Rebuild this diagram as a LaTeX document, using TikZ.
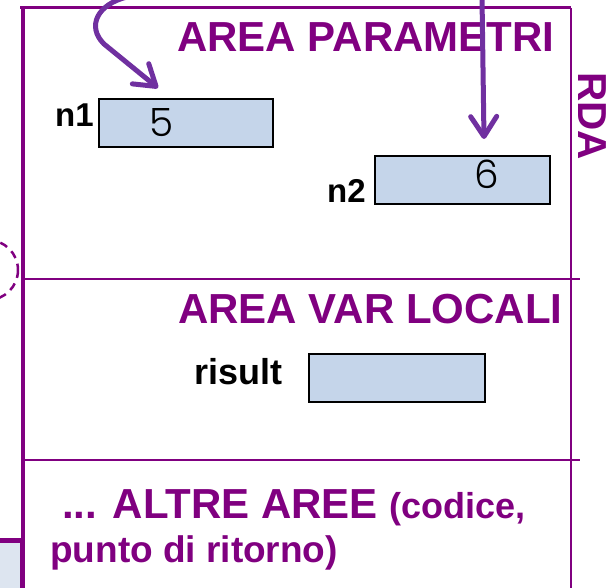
\documentclass[tikz,border=0pt]{standalone}
\usepackage{fontspec}
\setmainfont{Liberation Sans}
\newfontfamily\digitfont{Poppins}[UprightFont=* Light]
\usetikzlibrary{arrows.meta}
\definecolor{rdapurple}{HTML}{800080}
\definecolor{arrowpurple}{HTML}{7030A0}
\definecolor{cellfill}{HTML}{C5D5EA}
\definecolor{palefill}{HTML}{DDE5F0}
\tikzset{
  areatitle/.style={text=rdapurple, font=\fontsize{42}{46}\selectfont\bfseries, inner sep=0pt},
  varlabel/.style={text=black, font=\fontsize{33}{36}\selectfont\bfseries, inner sep=0pt},
  cell/.style={draw=black, line width=1.6pt, fill=cellfill, minimum width=#1, minimum height=48pt, inner sep=0pt},
  digit/.style={text=black, font=\fontsize{39}{40}\digitfont, inner sep=0pt},
  frame/.style={draw=rdapurple},
  callarrow/.style={draw=arrowpurple, line width=5pt, line cap=round, line join=round,
    -{Straight Barb[length=20pt, width=26pt, line cap=round, line join=round]}},
}
\begin{document}
\begin{tikzpicture}[x=1pt, y=-1pt]
\useasboundingbox (0,0) rectangle (610,588);
\clip (0,0) rectangle (610,588);
% frame
\draw[frame, line width=3pt] (20,8) -- (571,8);
\draw[frame, line width=2.5pt] (571,8) -- (571,592);
\draw[frame, line width=3.5pt] (23,8) -- (23,540);
\draw[frame, line width=2pt] (25,279) -- (580,279);
\draw[frame, line width=2pt] (25,460) -- (580,460);
\draw[frame, line width=5pt, fill=palefill] (-5,540) rectangle (22.5,600);
\draw[frame, line width=2.5pt, dash pattern=on 8pt off 6pt] (-12,270) circle (30);
% titles
\node[areatitle, anchor=base west] (tpar) at (177,52) {AREA PARAMETRI};
\node[areatitle, anchor=base west] (tloc) at (178,323) {AREA VAR LOCALI};
\node[areatitle, font=\fontsize{40.5}{44}\selectfont\bfseries, anchor=base west, rotate=-90] (trda) at (578,72) {RDA};
\node[text=rdapurple, inner sep=0pt, anchor=base west, font=\bfseries] (talt) at (62,518)
  {{\fontsize{42}{45}\selectfont ... ALTRE AREE }{\fontsize{36}{40}\selectfont(codice,}};
\node[text=rdapurple, inner sep=0pt, anchor=base west, font=\fontsize{37}{40}\selectfont\bfseries] (tpun) at (50,562) {punto di ritorno)};
% variables
\node[varlabel, anchor=base west] (ln1) at (55,127) {n1};
\node[cell=174pt, anchor=north west] (c1) at (98,98) {};
\node[digit, anchor=base] (d1) at (162,137) {5};
\node[varlabel, anchor=base west] (ln2) at (327,202) {n2};
\node[cell=175pt, anchor=north west] (c2) at (374,155) {};
\node[digit, anchor=base] (d2) at (487,189) {6};
\node[varlabel, font=\fontsize{36}{40}\selectfont\bfseries, anchor=base west] (lr) at (194,384) {risult};
\node[cell=176pt, anchor=north west] (c3) at (308,353) {};
% arrows
\coordinate (s1) at (127,-3);
\coordinate (e1) at (158,88);
\coordinate (s2) at (482,-3);
\coordinate (e2) at (484,139);
\draw[callarrow] (s1) .. controls (98,4) and (86,26) .. (104,44) -- (e1);
\draw[callarrow] (s2) -- (e2);
\end{tikzpicture}
\end{document}
